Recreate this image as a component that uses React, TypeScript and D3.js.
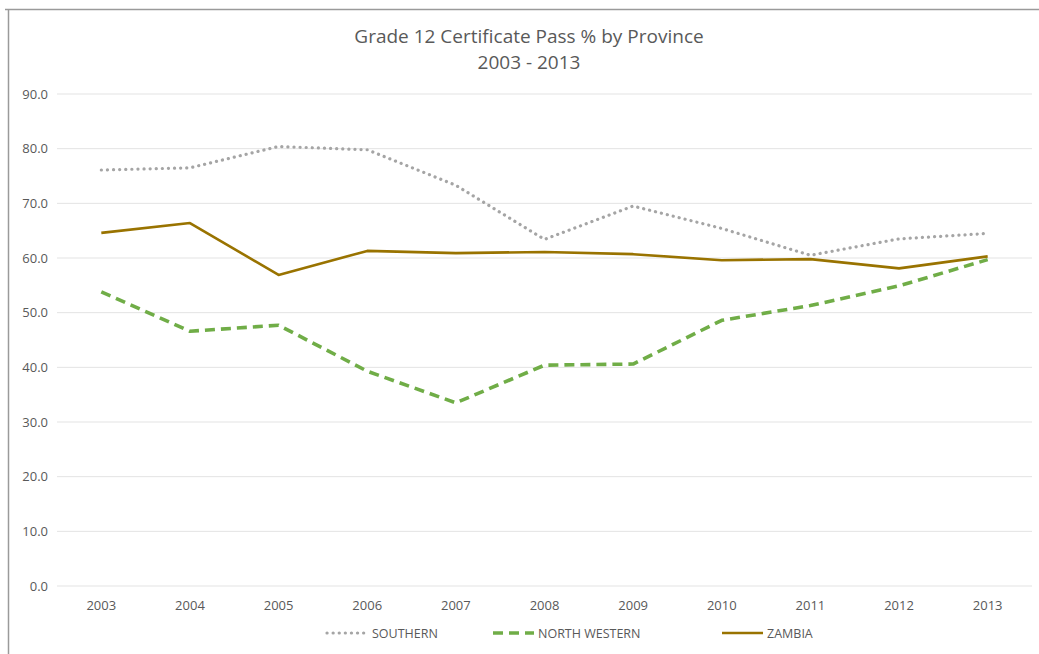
import React from "react";
import * as d3 from "d3";

const years = ["2003","2004","2005","2006","2007","2008","2009","2010","2011","2012","2013"];
const southern = [76.1, 76.5, 80.4, 79.8, 73.3, 63.4, 69.5, 65.4, 60.5, 63.5, 64.5];
const northWestern = [53.8, 46.6, 47.7, 39.3, 33.5, 40.4, 40.6, 48.6, 51.3, 54.9, 59.7];
const zambia = [64.6, 66.4, 56.9, 61.3, 60.9, 61.1, 60.7, 59.6, 59.8, 58.1, 60.3];
const yTicks = [0, 10, 20, 30, 40, 50, 60, 70, 80, 90];
const titleLines = ["Grade 12 Certificate Pass % by Province", "2003 - 2013"];

const W = 1039, H = 654;
const FONT = "'Open Sans', sans-serif";

export default function App() {
  const x = d3.scaleBand<string>().domain(years).range([57, 1032]);
  const y = d3.scaleLinear().domain([0, 90]).range([586, 94]);
  const line = d3.line<number>()
    .x((_, i) => (x(years[i]) as number) + x.bandwidth() / 2)
    .y((d) => y(d));

  const series = [
    { name: "SOUTHERN", values: southern, color: "#a5a5a5", width: 3.2, dash: "0.1 6", cap: "round", lx: 327 },
    { name: "NORTH WESTERN", values: northWestern, color: "#70ad47", width: 3.6, dash: "10 6", cap: "butt", lx: 493 },
    { name: "ZAMBIA", values: zambia, color: "#997300", width: 2.6, dash: null, cap: "butt", lx: 722 },
  ];

  return (
    <svg width={W} height={H} style={{ position: "absolute", left: 0, top: 0, background: "#fff" }}>
      <rect x={0} y={0} width={W} height={H} fill="#fff" />
      <line x1={8.5} y1={9} x2={8.5} y2={H} stroke="#9a9a9a" strokeWidth={1.5} />
      <line x1={5} y1={9.5} x2={W} y2={9.5} stroke="#9a9a9a" strokeWidth={1.5} />
      {titleLines.map((t, i) => (
        <text key={t} x={529} y={43 + i * 26} textAnchor="middle" fontFamily={FONT} fontSize={19} fill="#595959">{t}</text>
      ))}
      {yTicks.map((t) => (
        <g key={t}>
          <line x1={57} x2={1032} y1={y(t)} y2={y(t)} stroke="#e3e3e3" strokeWidth={1} />
          <text x={48} y={y(t) + 4.5} textAnchor="end" fontFamily={FONT} fontSize={13} fill="#595959">{t.toFixed(1)}</text>
        </g>
      ))}
      {years.map((yr) => (
        <text key={yr} x={(x(yr) as number) + x.bandwidth() / 2} y={610} textAnchor="middle" fontFamily={FONT} fontSize={13} fill="#595959">{yr}</text>
      ))}
      {series.map((s) => (
        <path key={s.name} d={line(s.values) as string} fill="none" stroke={s.color} strokeWidth={s.width}
          strokeDasharray={s.dash ?? undefined} strokeLinecap={s.cap as any} strokeLinejoin="round" />
      ))}
      {series.map((s) => (
        <g key={s.name + "-leg"}>
          <line x1={s.lx} x2={s.lx + 41} y1={633} y2={633} stroke={s.color} strokeWidth={s.width}
            strokeDasharray={s.dash ?? undefined} strokeLinecap={s.cap as any} />
          <text x={s.lx + 45} y={637.5} fontFamily={FONT} fontSize={12.5} fill="#595959">{s.name}</text>
        </g>
      ))}
    </svg>
  );
}
